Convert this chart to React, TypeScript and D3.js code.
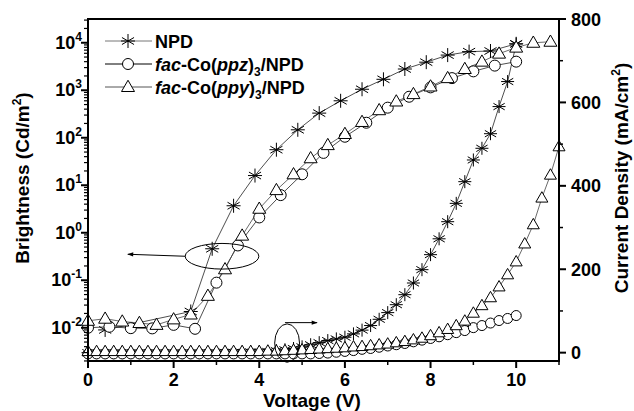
import React from 'react';
import * as d3 from 'd3';

const W = 634;
const H = 411;

// Brightness (left, log axis)
const npdBrightV = [0.4, 2.4, 2.9, 3.4, 3.9, 4.4, 4.9, 5.4, 5.9, 6.4, 6.9, 7.4, 7.9, 8.4, 8.9, 9.4, 10.0];
const npdBright = [0.009, 0.022, 0.46, 3.7, 16, 56, 147, 330, 600, 1050, 1700, 2800, 3900, 5500, 6500, 6700, 9500];

const ppzBrightV = [0, 0.5, 1.0, 1.5, 2.0, 2.5, 3.0, 3.5, 4.0, 4.5, 5.0, 5.5, 6.0, 6.5, 7.0, 7.5, 8.0, 8.5, 9.0, 9.5, 10.0];
const ppzBright = [0.01, 0.0105, 0.0098, 0.0097, 0.0115, 0.0095, 0.089, 0.54, 2.1, 6.2, 17, 48, 105, 207, 430, 730, 1150, 1800, 2500, 3300, 4000];

const ppyBrightV = [0, 0.4, 0.8, 1.2, 1.6, 2.0, 2.4, 2.8, 3.2, 3.6, 4.0, 4.4, 4.8, 5.2, 5.6, 6.0, 6.4, 6.8, 7.2, 7.6, 8.0, 8.4, 8.8, 9.2, 9.6, 10.0, 10.4, 10.8];
const ppyBright = [0.014, 0.0155, 0.0135, 0.0126, 0.0115, 0.015, 0.019, 0.047, 0.17, 0.87, 3.2, 7.9, 17, 37, 70, 120, 215, 380, 580, 830, 1200, 1800, 2800, 4000, 5900, 7900, 10000, 10500];

// Current density (right axis)
const jV10 = [0, 0.2, 0.4, 0.6, 0.8, 1.0, 1.2, 1.4, 1.6, 1.8, 2.0, 2.2, 2.4, 2.6, 2.8, 3.0, 3.2, 3.4, 3.6, 3.8, 4.0, 4.2, 4.4, 4.6, 4.8, 5.0, 5.2, 5.4, 5.6, 5.8, 6.0, 6.2, 6.4, 6.6, 6.8, 7.0, 7.2, 7.4, 7.6, 7.8, 8.0, 8.2, 8.4, 8.6, 8.8, 9.0, 9.2, 9.4, 9.6, 9.8, 10.0];
const jV11 = [0, 0.2, 0.4, 0.6, 0.8, 1.0, 1.2, 1.4, 1.6, 1.8, 2.0, 2.2, 2.4, 2.6, 2.8, 3.0, 3.2, 3.4, 3.6, 3.8, 4.0, 4.2, 4.4, 4.6, 4.8, 5.0, 5.2, 5.4, 5.6, 5.8, 6.0, 6.2, 6.4, 6.6, 6.8, 7.0, 7.2, 7.4, 7.6, 7.8, 8.0, 8.2, 8.4, 8.6, 8.8, 9.0, 9.2, 9.4, 9.6, 9.8, 10.0, 10.2, 10.4, 10.6, 10.8, 11.0];
const npdJ = [0, 0, 0, 0, 0, 0, 0, 0, 0, 0, 0, 0, 0, 0, 0, 0, 1, 1, 1, 2, 2, 3, 5, 7, 10, 14, 19, 24, 29, 33, 37, 45, 54, 65, 80, 96, 115, 139, 167, 199, 235, 273, 314, 358, 410, 462, 490, 525, 590, 650, 740];
const ppzJ = [-3, -3, -3, -3, -3, -3, -3, -3, -3, -3, -3, -3, -3, -3, -3, -3, -3, -3, -3, -3, -3, -3, -3, -3, -3, -3, -3, -2, -1, 1, 3, 5, 8, 10, 13, 16, 19, 22, 26, 30, 34, 38, 43, 48, 53, 60, 65, 71, 77, 82, 89];
const ppyJ = [3, 3, 3, 3, 3, 3, 3, 3, 3, 3, 3, 3, 3, 3, 3, 3, 3, 3, 3, 3, 3, 4, 4, 5, 6, 7, 8, 9, 10, 11, 12, 14, 15, 17, 19, 21, 24, 27, 31, 35, 41, 48, 56, 65, 76, 95, 113, 132, 158, 187, 218, 261, 307, 371, 426, 494];

// Axis ticks
const xMajor = [0, 2, 4, 6, 8, 10];
const xMinor = [1, 3, 5, 7, 9, 11];
const yLExp = [-2, -1, 0, 1, 2, 3, 4];
const yRMajor = [0, 200, 400, 600, 800];
const yRMinor = [100, 300, 500, 700];

// Annotation (data coordinates)
const ellipseL = { v: 3.13, b: 0.32, rv: 0.86, rDec: 0.27 };
const arrowL = { v0: 2.27, v1: 0.93, b: 0.32 };
const ellipseR = { v: 4.65, j: 23, rv: 0.29, rj: 46 };
const arrowR = { v0: 4.6, v1: 5.35, j: 72 };

const FONT = "'Liberation Sans', Arial, Helvetica, sans-serif";

function starPath(cx: number, cy: number, r: number) {
  const a = Math.PI / 6;
  const dx = r * Math.cos(a), dy = r * Math.sin(a);
  return `M${cx},${cy - r}L${cx},${cy + r}M${cx - dx},${cy - dy}L${cx + dx},${cy + dy}M${cx - dx},${cy + dy}L${cx + dx},${cy - dy}M${cx - r},${cy}L${cx + r},${cy}`;
}
function triPath(cx: number, cy: number, s: number) {
  const h = s * Math.sqrt(3) / 2;
  return `M${cx},${cy - h * 0.6}L${cx + s / 2},${cy + h * 0.4}L${cx - s / 2},${cy + h * 0.4}Z`;
}

export default function App() {
  const x = d3.scaleLinear().domain([0, 11]).range([88, 559]);
  const yL = d3.scaleLog().domain([Math.pow(10, -2.7), Math.pow(10, 4.5)]).range([361, 19]);
  const yR = d3.scaleLinear().domain([-20, 800]).range([361, 19]);

  const mkB = (vs: number[], bs: number[]) => vs.map((v, i) => [x(v), yL(bs[i])] as [number, number]);
  const mkJ = (vs: number[], js: number[]) => vs.map((v, i) => [x(v), yR(js[i])] as [number, number]);
  const line = d3.line();

  const npdB = mkB(npdBrightV, npdBright);
  const ppzB = mkB(ppzBrightV, ppzBright);
  const ppyB = mkB(ppyBrightV, ppyBright);
  const npdJp = mkJ(jV10, npdJ);
  const ppzJp = mkJ(jV10, ppzJ);
  const ppyJp = mkJ(jV11, ppyJ);

  const [x0, x1] = x.range();
  const yTop = 19, yBot = 361;

  const logMinor: number[] = [];
  for (let e = -3; e <= 4; e++) {
    for (let k = 2; k <= 9; k++) {
      const v = k * Math.pow(10, e);
      if (v >= yL.domain()[0] && v <= yL.domain()[1]) logMinor.push(v);
    }
  }

  const stars = (pts: [number, number][], r: number) => pts.map((p, i) => (
    <path key={i} d={starPath(p[0], p[1], r)} stroke="#000" strokeWidth={1} fill="none" />
  ));
  const circles = (pts: [number, number][], r: number) => pts.map((p, i) => (
    <circle key={i} cx={p[0]} cy={p[1]} r={r} fill="#fff" stroke="#000" strokeWidth={1} />
  ));
  const tris = (pts: [number, number][], s: number) => pts.map((p, i) => (
    <path key={i} d={triPath(p[0], p[1], s)} fill="#fff" stroke="#000" strokeWidth={1} />
  ));

  const eLx = x(ellipseL.v), eLy = yL(ellipseL.b);
  const eLrx = x(ellipseL.v + ellipseL.rv) - eLx;
  const eLry = yL(ellipseL.b) - yL(ellipseL.b * Math.pow(10, ellipseL.rDec));
  const eRx = x(ellipseR.v), eRy = yR(ellipseR.j);
  const eRrx = x(ellipseR.v + ellipseR.rv) - eRx;
  const eRry = yR(ellipseR.j) - yR(ellipseR.j + ellipseR.rj);

  const legendY = [41, 64, 87];

  return (
    <svg width={W} height={H} style={{ position: 'absolute', left: 0, top: 0, background: '#fff' }}
      fontFamily={FONT} fontWeight="bold">
      <defs>
        <marker id="ah" viewBox="0 0 10 10" refX="9" refY="5" markerWidth="9" markerHeight="6" orient="auto" markerUnits="userSpaceOnUse">
          <path d="M0,1.5L10,5L0,8.5Z" fill="#000" />
        </marker>
      </defs>

      {/* Data lines */}
      <path d={line(npdB) || ''} fill="none" stroke="#222" strokeWidth={0.8} />
      <path d={line(ppzB) || ''} fill="none" stroke="#222" strokeWidth={0.8} />
      <path d={line(ppyB) || ''} fill="none" stroke="#444" strokeWidth={0.8} />
      <path d={line(npdJp) || ''} fill="none" stroke="#222" strokeWidth={0.8} />
      <path d={line(ppzJp) || ''} fill="none" stroke="#222" strokeWidth={0.8} />
      <path d={line(ppyJp) || ''} fill="none" stroke="#444" strokeWidth={0.8} />

      {/* Markers */}
      {stars(npdJp, 6.5)}
      {circles(ppzJp, 5)}
      {tris(ppyJp, 12)}
      {stars(npdB, 7)}
      {circles(ppzB, 5.5)}
      {tris(ppyB, 13)}

      {/* Annotations */}
      <ellipse cx={eLx} cy={eLy} rx={eLrx} ry={eLry} fill="none" stroke="#000" strokeWidth={1} />
      <line x1={x(arrowL.v0)} y1={yL(arrowL.b)} x2={x(arrowL.v1)} y2={yL(arrowL.b) - 2} stroke="#000" strokeWidth={1} markerEnd="url(#ah)" />
      <ellipse cx={eRx} cy={eRy} rx={eRrx} ry={eRry} fill="none" stroke="#000" strokeWidth={1} />
      <line x1={x(arrowR.v0)} y1={yR(arrowR.j)} x2={x(arrowR.v1)} y2={yR(arrowR.j)} stroke="#000" strokeWidth={1} markerEnd="url(#ah)" />

      {/* Frame */}
      <line x1={x0} y1={yTop} x2={x1} y2={yTop} stroke="#000" strokeWidth={2} />
      <line x1={x0} y1={yTop - 1} x2={x0} y2={yBot + 1} stroke="#000" strokeWidth={2} />
      <line x1={x1} y1={yTop - 1} x2={x1} y2={yBot + 1} stroke="#000" strokeWidth={2} />
      <line x1={x0 - 1} y1={yBot} x2={x1 + 1} y2={yBot} stroke="#000" strokeWidth={2} />

      {/* Bottom axis */}
      {xMajor.map(v => (
        <g key={'xm' + v}>
          <line x1={x(v)} x2={x(v)} y1={yBot} y2={yBot + 7} stroke="#000" strokeWidth={2} />
          <text x={x(v)} y={386} textAnchor="middle" fontSize={18}>{v}</text>
        </g>
      ))}
      {xMinor.map(v => (
        <line key={'xn' + v} x1={x(v)} x2={x(v)} y1={yBot} y2={yBot + 4} stroke="#000" strokeWidth={1.5} />
      ))}

      {/* Left log axis */}
      {yLExp.map(e => (
        <g key={'yl' + e}>
          <line x1={x0 - 7} x2={x0} y1={yL(Math.pow(10, e))} y2={yL(Math.pow(10, e))} stroke="#000" strokeWidth={2} />
          <text x={82} y={yL(Math.pow(10, e)) + 6} textAnchor="end" fontSize={18}>
            10<tspan dy={-8} fontSize={12}>{e}</tspan>
          </text>
        </g>
      ))}
      {logMinor.map((v, i) => (
        <line key={'ln' + i} x1={x0 - 4} x2={x0} y1={yL(v)} y2={yL(v)} stroke="#000" strokeWidth={1.2} />
      ))}

      {/* Right axis */}
      {yRMajor.map(v => (
        <g key={'yr' + v}>
          <line x1={x1} x2={x1 + 7} y1={yR(v)} y2={yR(v)} stroke="#000" strokeWidth={2} />
          <text x={571} y={yR(v) + 6.5} textAnchor="start" fontSize={18}>{v}</text>
        </g>
      ))}
      {yRMinor.map(v => (
        <line key={'yrn' + v} x1={x1} x2={x1 + 4} y1={yR(v)} y2={yR(v)} stroke="#000" strokeWidth={1.5} />
      ))}

      {/* Axis titles */}
      <text x={312} y={407} textAnchor="middle" fontSize={19}>Voltage (V)</text>
      <text transform="translate(29,178) rotate(-90)" textAnchor="middle" fontSize={19}>
        Brightness (Cd/m<tspan dy={-8} fontSize={12}>2</tspan><tspan dy={8}>)</tspan>
      </text>
      <text transform="translate(628,178) rotate(-90)" textAnchor="middle" fontSize={19}>
        Current Density (mA/cm<tspan dy={-8} fontSize={12}>2</tspan><tspan dy={8}>)</tspan>
      </text>

      {/* Legend */}
      <g>
        <line x1={105} x2={152} y1={legendY[0]} y2={legendY[0]} stroke="#777" strokeWidth={1} />
        <path d={starPath(128, legendY[0], 7)} stroke="#000" strokeWidth={1} fill="none" />
        <text x={155} y={legendY[0] + 6.5} fontSize={18}>NPD</text>

        <line x1={105} x2={152} y1={legendY[1]} y2={legendY[1]} stroke="#000" strokeWidth={1} />
        <circle cx={128} cy={legendY[1]} r={5.5} fill="#fff" stroke="#000" strokeWidth={1} />
        <text x={155} y={legendY[1] + 6.5} fontSize={18}>
          <tspan fontStyle="italic">fac</tspan>-Co(<tspan fontStyle="italic">ppz</tspan>)<tspan dy={5} fontSize={12}>3</tspan><tspan dy={-5}>/NPD</tspan>
        </text>

        <line x1={105} x2={152} y1={legendY[2]} y2={legendY[2]} stroke="#555" strokeWidth={1} />
        <path d={triPath(128, legendY[2], 13)} fill="#fff" stroke="#000" strokeWidth={1} />
        <text x={155} y={legendY[2] + 6.5} fontSize={18}>
          <tspan fontStyle="italic">fac</tspan>-Co(<tspan fontStyle="italic">ppy</tspan>)<tspan dy={5} fontSize={12}>3</tspan><tspan dy={-5}>/NPD</tspan>
        </text>
      </g>
    </svg>
  );
}
